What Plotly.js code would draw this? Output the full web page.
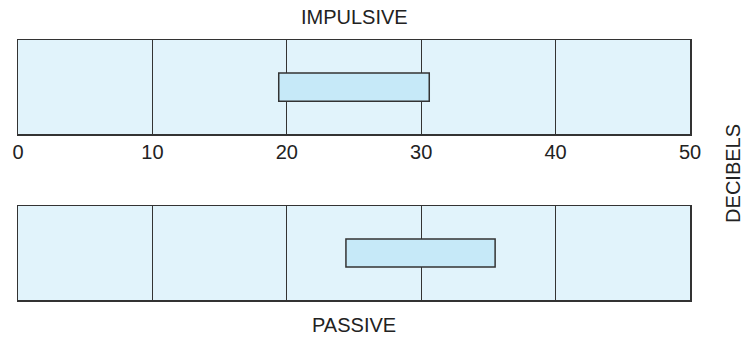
<!DOCTYPE html>
<html>
<head>
<meta charset="utf-8">
<script src="https://cdn.plot.ly/plotly-3.0.1.min.js"></script>
<style>
  html, body { margin: 0; padding: 0; background: #fff; }
  #plot { width: 743px; height: 339px; }
</style>
</head>
<body>
<div id="plot"></div>
<script>
// decibel ranges
var panels = ['IMPULSIVE', 'PASSIVE'];
var rangeStart = [19.4, 24.4];
var rangeEnd = [30.6, 35.5];
var tickVals = [0, 10, 20, 30, 40, 50];
var axisTitle = 'DECIBELS';

var edge = '#333333';
var fill = '#c6e9f8';
var bg = '#e1f3fb';

var data = panels.map(function (name, i) {
  return {
    type: 'bar',
    orientation: 'h',
    name: name,
    y: [0.5],
    base: [rangeStart[i]],
    x: [rangeEnd[i] - rangeStart[i]],
    width: 0.3,
    xaxis: i === 0 ? 'x' : 'x2',
    yaxis: i === 0 ? 'y' : 'y2',
    marker: { color: fill, line: { color: edge, width: 1.5 } },
    hoverinfo: 'skip'
  };
});

function xax(showLabels) {
  return {
    range: [0, 50],
    tickvals: tickVals,
    showticklabels: showLabels,
    ticks: '',
    showgrid: true,
    gridcolor: edge,
    gridwidth: 1,
    showline: true,
    mirror: true,
    linecolor: edge,
    linewidth: 1.5,
    zeroline: false,
    fixedrange: true,
    ticklabelstandoff: -1,
    tickfont: { family: 'Liberation Sans, Arial, sans-serif', size: 20, color: '#222' }
  };
}

function yax(domain, anchor) {
  return {
    domain: domain,
    anchor: anchor,
    range: [0, 1],
    showticklabels: false,
    showgrid: false,
    zeroline: false,
    showline: true,
    mirror: true,
    linecolor: edge,
    linewidth: 1.5,
    ticks: '',
    fixedrange: true
  };
}

var xa = xax(true);
xa.anchor = 'y';
var xa2 = xax(false);
xa2.anchor = 'y2';

var txt = { family: 'Liberation Sans, Arial, sans-serif', size: 20, color: '#222' };

var layout = {
  width: 743,
  height: 339,
  margin: { l: 17.5, r: 52.5, t: 40, b: 39 },
  paper_bgcolor: '#ffffff',
  plot_bgcolor: bg,
  showlegend: false,
  barmode: 'overlay',
  xaxis: xa,
  yaxis: yax([0.638, 1], 'x'),
  xaxis2: xa2,
  yaxis2: yax([0, 0.3615], 'x2'),
  annotations: [
    { text: panels[0], xref: 'paper', yref: 'paper', x: 0.5, y: 1, yshift: 23.5,
      xanchor: 'center', yanchor: 'middle', showarrow: false, font: txt },
    { text: panels[1], xref: 'paper', yref: 'paper', x: 0.5, y: 0, yshift: -25,
      xanchor: 'center', yanchor: 'middle', showarrow: false, font: txt },
    { text: axisTitle, xref: 'paper', yref: 'paper', x: 1, xshift: 43, y: 0.485,
      xanchor: 'center', yanchor: 'middle', textangle: -90, showarrow: false, font: txt }
  ]
};

Plotly.newPlot('plot', data, layout, { staticPlot: true });
</script>
</body>
</html>
